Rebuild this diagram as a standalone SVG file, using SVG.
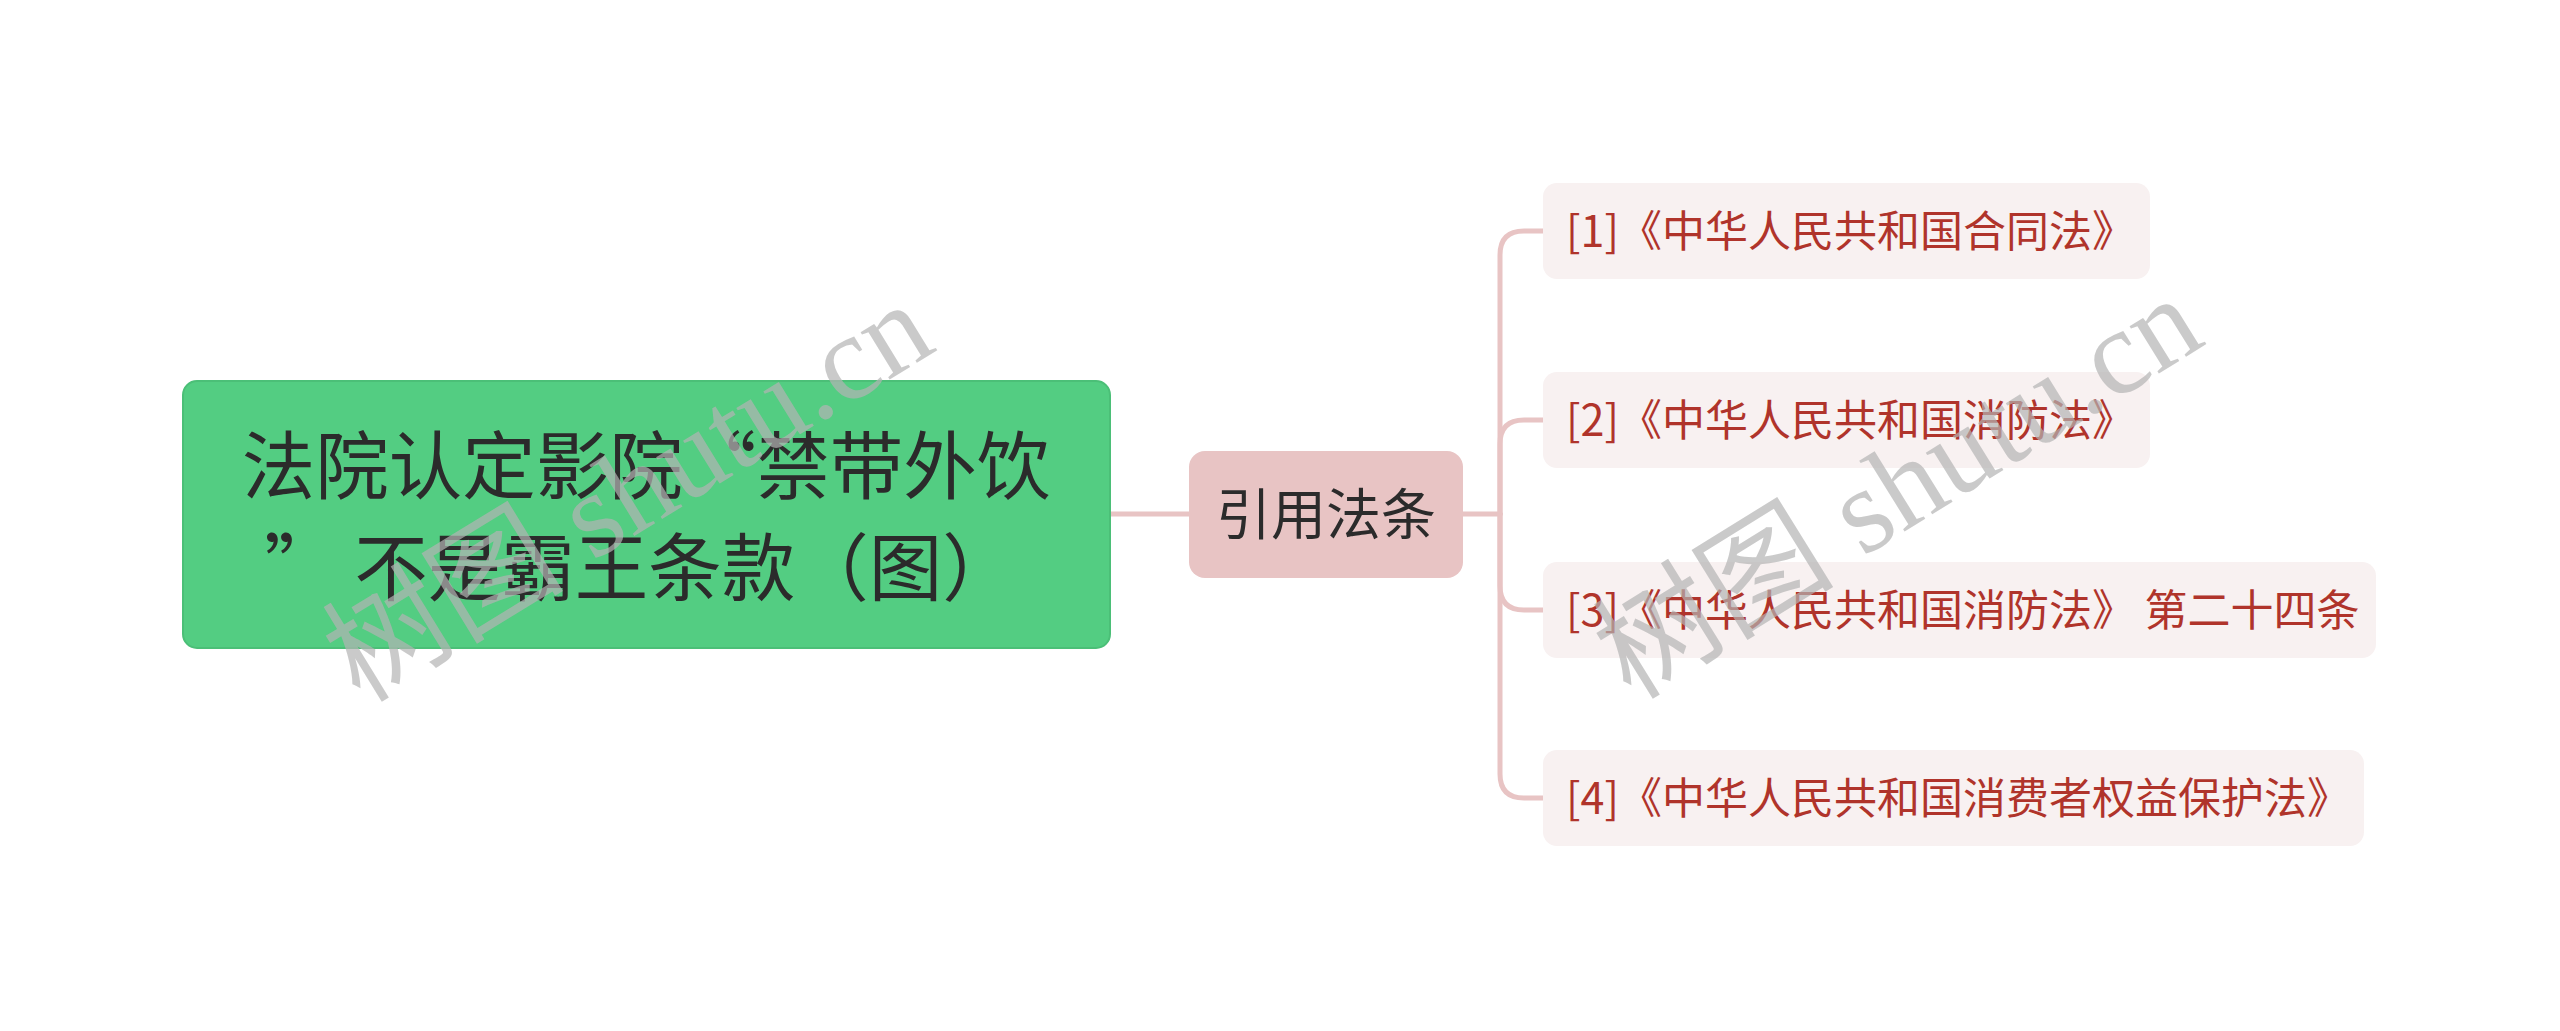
<svg xmlns="http://www.w3.org/2000/svg" width="2560" height="1031" viewBox="0 0 2560 1031">
<style>
.conn{fill:none;stroke:#e8c4c4;stroke-width:5;stroke-linecap:round}
.root-box{fill:#53cd82;stroke:#4bbf77;stroke-width:2}
.root-text{font-family:"Noto Sans CJK SC","Noto Sans",sans-serif;font-size:73.5px;fill:#2b2b2b;text-anchor:middle}
.mid-box{fill:#e8c4c4}
.mid-text{font-family:"Noto Sans CJK SC","Noto Sans",sans-serif;font-size:55px;fill:#2b2b2b;text-anchor:middle}
.leaf-box{fill:#f8f1f1}
.leaf-text{font-family:"Noto Sans CJK SC","Noto Sans",sans-serif;font-size:43px;fill:#b0342b}
.wm{font-family:"Liberation Serif","Noto Sans CJK SC",serif;font-size:121px;fill:#b4b4b4;fill-opacity:0.7}
</style>
<rect width="2560" height="1031" fill="#ffffff"/>
<g id="connectors">
<path class="conn" d="M1110 514 H1189"/>
<path class="conn" d="M1463 514 H1500"/>
<path class="conn" d="M1500 514 V255 Q1500 231 1524 231 H1543"/>
<path class="conn" d="M1500 514 V444 Q1500 420 1524 420 H1543"/>
<path class="conn" d="M1500 514 V586 Q1500 610 1524 610 H1543"/>
<path class="conn" d="M1500 514 V774 Q1500 798 1524 798 H1543"/>
</g>
<g id="node-root">
<rect class="root-box" x="183" y="381" width="927" height="267" rx="14"/>
<text class="root-text"><tspan x="646" y="493">法院认定影院“禁带外饮</tspan><tspan x="640" y="595">” 不是霸王条款（图）</tspan></text>
</g>
<g id="node-mid">
<rect class="mid-box" x="1189" y="451" width="274" height="127" rx="16"/>
<text class="mid-text" x="1326" y="534">引用法条</text>
</g>
<g id="node-leaf1">
<rect class="leaf-box" x="1543" y="183" width="607" height="96" rx="14"/>
<text class="leaf-text" x="1566" y="247">[1]《中华人民共和国合同法》</text>
</g>
<g id="node-leaf2">
<rect class="leaf-box" x="1543" y="372" width="607" height="96" rx="14"/>
<text class="leaf-text" x="1566" y="436">[2]《中华人民共和国消防法》</text>
</g>
<g id="node-leaf3">
<rect class="leaf-box" x="1543" y="562" width="833" height="96" rx="14"/>
<text class="leaf-text" x="1566" y="626">[3]《中华人民共和国消防法》 第二十四条</text>
</g>
<g id="node-leaf4">
<rect class="leaf-box" x="1543" y="750" width="821" height="96" rx="14"/>
<text class="leaf-text" x="1566" y="814">[4]《中华人民共和国消费者权益保护法》</text>
</g>
<g id="watermarks">
<text class="wm" transform="translate(360 704) rotate(-31.5)">树图 shutu.cn</text>
<text class="wm" transform="translate(1631 701) rotate(-31.8)">树图 shutu.cn</text>
</g>
</svg>
